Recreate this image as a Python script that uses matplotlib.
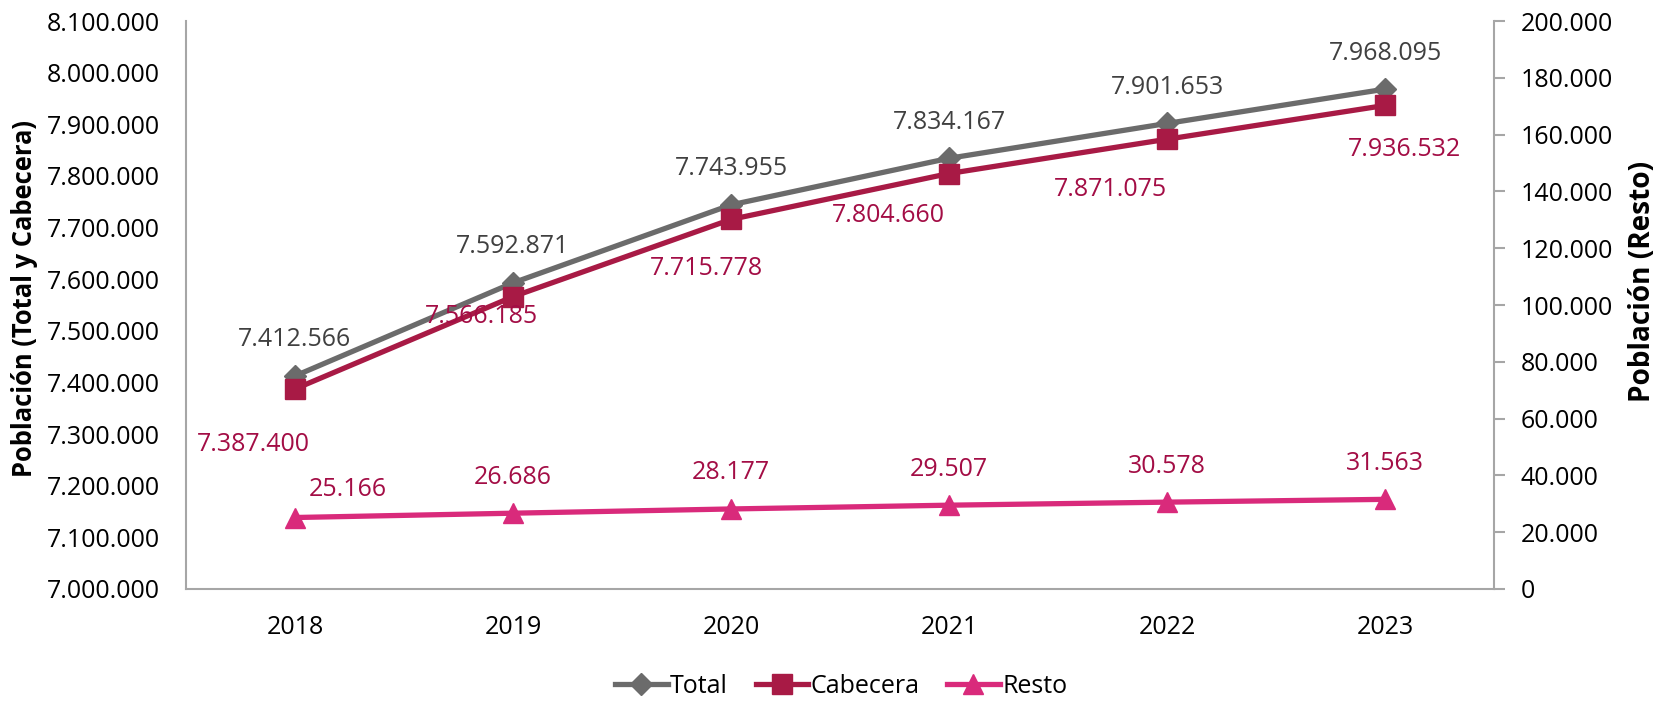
import matplotlib
matplotlib.use("Agg")
import matplotlib.pyplot as plt
from matplotlib.ticker import FuncFormatter, MultipleLocator
from matplotlib.lines import Line2D

plt.rcParams['font.family'] = ['Open Sans', 'DejaVu Sans']

years = ["2018", "2019", "2020", "2021", "2022", "2023"]
total = [7412566, 7592871, 7743955, 7834167, 7901653, 7968095]
cabecera = [7387400, 7566185, 7715778, 7804660, 7871075, 7936532]
resto = [25166, 26686, 28177, 29507, 30578, 31563]

c_total = "#6b6b6b"
c_cab = "#a81a45"
c_resto = "#d92a7b"
c_lab_total = "#404040"
c_lab_cab = "#a30d45"


def fmt(v, pos=None):
    return f"{int(round(v)):,}".replace(",", ".")


fig = plt.figure(figsize=(16.56, 7.01), dpi=100)
ax = fig.add_axes([0.1123, 0.1598, 0.7899, 0.8102])
ax2 = ax.twinx()

x = list(range(len(years)))
fs = 18

ax.plot(x, total, color=c_total, lw=3.8, marker="D", ms=11, zorder=3)
ax.plot(x, cabecera, color=c_cab, lw=3.8, marker="s", ms=14, zorder=3)
ax2.plot(x, resto, color=c_resto, lw=3.8, marker="^", ms=14, zorder=3)

ax.set_xlim(-0.5, 5.5)
ax.set_ylim(7000000, 8100000)
ax.yaxis.set_major_locator(MultipleLocator(100000))
ax.yaxis.set_major_formatter(FuncFormatter(fmt))
ax2.set_ylim(0, 200000)
ax2.yaxis.set_major_locator(MultipleLocator(20000))
ax2.yaxis.set_major_formatter(FuncFormatter(fmt))

ax.set_xticks(x)
ax.set_xticklabels(years)

for a in (ax, ax2):
    for s in a.spines.values():
        s.set_color("#a6a6a6")
        s.set_linewidth(1.5)
    a.spines["top"].set_visible(False)
ax.spines["right"].set_visible(False)
ax2.spines["left"].set_visible(False)
ax2.spines["bottom"].set_visible(False)

ax.tick_params(axis="y", length=0, labelsize=fs, pad=19)
ax.tick_params(axis="x", length=0, labelsize=fs, pad=18.5)
ax2.tick_params(axis="y", length=8, width=1.5, color="#a6a6a6", labelsize=fs, pad=11, direction="out")

ylab_l = ax.set_ylabel("Población (Total y Cabecera)", fontsize=17, fontweight="bold")
ax.yaxis.set_label_coords(-0.1131, 0.511)
ylab_r = ax2.set_ylabel("Población (Resto)", fontsize=17, fontweight="bold")
ax2.yaxis.set_label_coords(1.1024, 0.542)

# fit axis-title sizes to the reference's lengths (pixels)
renderer = fig.canvas.get_renderer()
for lab, target in ((ylab_l, 357.0), (ylab_r, 242.0)):
    h = lab.get_window_extent(renderer).height
    lab.set_fontsize(17 * target / h)

# data labels (offsets in points)
tot_off = [(0, 26)] * 6
cab_off = [(-30, -40), (-23, -14), (-18, -35), (-44, -30), (-41, -36), (14, -32)]
res_off = [(38, 20), (0, 26), (0, 26), (0, 26), (0, 26), (0, 26)]

for i in x:
    ax.annotate(fmt(total[i]), (i, total[i]), xytext=tot_off[i], textcoords="offset points",
                ha="center", va="center", fontsize=fs, color=c_lab_total)
    ax.annotate(fmt(cabecera[i]), (i, cabecera[i]), xytext=cab_off[i], textcoords="offset points",
                ha="center", va="center", fontsize=fs, color=c_lab_cab)
    ax2.annotate(fmt(resto[i]), (i, resto[i]), xytext=res_off[i], textcoords="offset points",
                 ha="center", va="center", fontsize=fs, color=c_lab_cab)

handles = [
    Line2D([], [], color=c_total, lw=3.8, marker="D", ms=11),
    Line2D([], [], color=c_cab, lw=3.8, marker="s", ms=14),
    Line2D([], [], color=c_resto, lw=3.8, marker="^", ms=14),
]
fig.legend(handles, ["Total", "Cabecera", "Resto"], loc="center", bbox_to_anchor=(0.508, 0.021),
           ncol=3, frameon=False, fontsize=fs, handlelength=2.1, handletextpad=0.1, columnspacing=1.1)

fig.savefig("out.png", dpi=100, facecolor="white")
